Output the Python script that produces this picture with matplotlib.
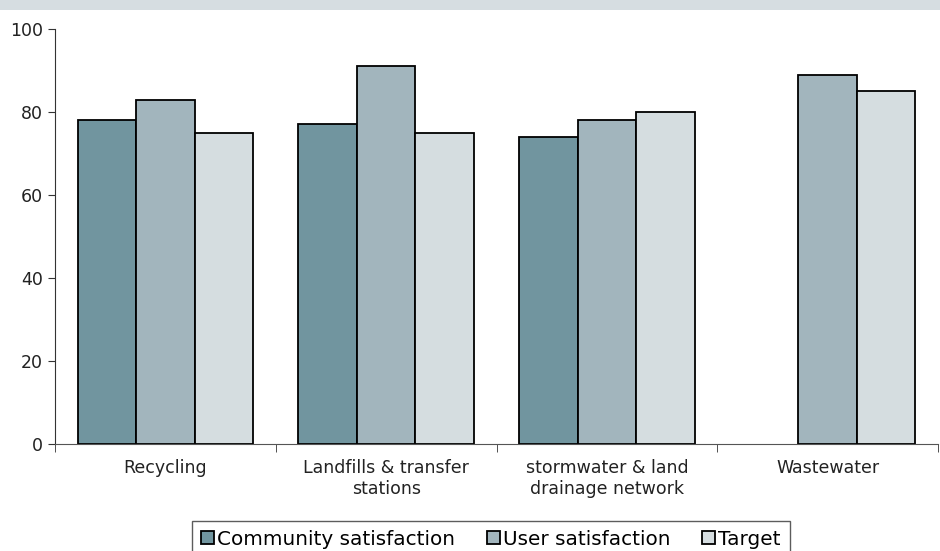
import matplotlib
matplotlib.use("Agg")
import matplotlib.pyplot as plt
import numpy as np
from matplotlib.patches import Rectangle

categories = ["Recycling", "Landfills & transfer\nstations", "stormwater & land\ndrainage network", "Wastewater"]
community = [78, 77, 74, np.nan]
user = [83, 91, 78, 89]
target = [75, 75, 80, 85]
series_names = ["Community satisfaction", "User satisfaction", "Target"]
colors = ["#71959f", "#a2b5bd", "#d5dde0"]

plt.rcParams['font.family'] = ['DejaVu Sans']
fig = plt.figure(figsize=(9.4, 5.51), dpi=100)
fig.patches.append(Rectangle((0, 1 - 10/551), 1, 10/551, transform=fig.transFigure,
                             facecolor="#d6dde1", edgecolor="none", zorder=0))
ax = fig.add_axes([55/940, (551-444)/551, (938-55)/940, (444-29)/551])

x = np.arange(len(categories))
w = 0.265
for i, (vals, name, c) in enumerate(zip([community, user, target], series_names, colors)):
    ax.bar(x + (i - 1) * w, vals, width=w, color=c, edgecolor="black", linewidth=1.3, label=name)

ax.set_xlim(-0.5, len(categories) - 0.5)
ax.set_ylim(0, 100)
ax.set_yticks([0, 20, 40, 60, 80, 100])
ax.set_xticks(x)
ax.set_xticklabels(categories, fontsize=12.5, color="#222222")
ax.set_xticks(np.arange(len(categories) + 1) - 0.5, minor=True)
ax.tick_params(axis="x", which="major", length=0, pad=11)
ax.tick_params(axis="x", which="minor", length=6, color="#333333")
ax.tick_params(axis="y", length=5, labelsize=12.5, labelcolor="#222222", color="#333333")
for s in ["top", "right"]:
    ax.spines[s].set_visible(False)
ax.spines["left"].set_color("#333333")
ax.spines["bottom"].set_color("#555555")

leg = fig.legend(loc="lower center", bbox_to_anchor=(0.522, -0.012), ncol=3, fontsize=14.4,
                 frameon=True, fancybox=False, edgecolor="#333333", handlelength=0.65,
                 handleheight=0.65, handletextpad=0.15, columnspacing=1.6, borderpad=0.45,
                 borderaxespad=0)
leg.get_frame().set_linewidth(1.0)

fig.savefig("out.png", dpi=100)
